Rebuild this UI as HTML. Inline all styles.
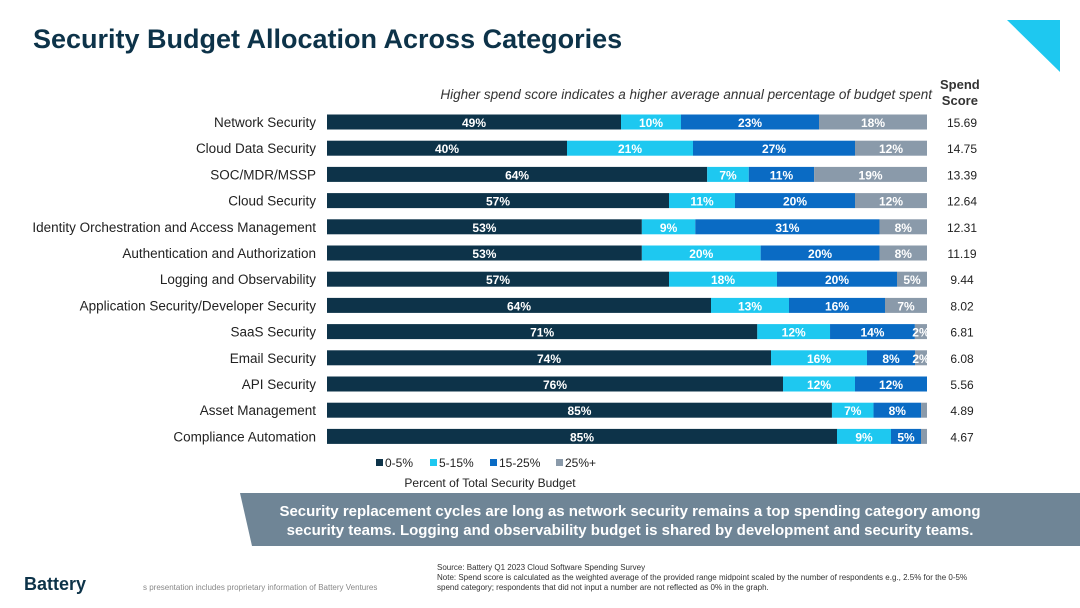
<!DOCTYPE html>
<html><head><meta charset="utf-8"><style>
body{margin:0;width:1080px;height:608px;background:#fff;font-family:"Liberation Sans",sans-serif;position:relative;overflow:hidden}
.t{position:absolute;white-space:nowrap}
</style></head><body>
<div class="t" style="left:33px;top:24px;font-size:27px;font-weight:bold;color:#0d3349">Security Budget Allocation Across Categories</div>
<svg class="t" style="left:0;top:0" width="1080" height="100"><polygon points="1007,20 1060,20 1060,72" fill="#1ec8f0"/></svg>
<div class="t" style="right:148px;top:87px;font-size:13.5px;font-style:italic;color:#333">Higher spend score indicates a higher average annual percentage of budget spent</div>
<div class="t" style="left:940px;top:77px;font-size:13px;font-weight:bold;color:#333;text-align:center;line-height:16px">Spend<br>Score</div>
<svg id="chart" style="position:absolute;left:0;top:0" width="1080" height="500"></svg>
<div class="t" style="left:0;top:0;width:1080px;height:560px;pointer-events:none">
<svg width="1080" height="560" style="position:absolute;left:0;top:0"><polygon points="240,493 1080,493 1080,546 252,546" fill="#6f8596"/></svg>
<div class="t" style="left:250px;top:502px;width:760px;text-align:center;color:#fff;font-weight:bold;font-size:15px;line-height:19px;white-space:normal">Security replacement cycles are long as network security remains a top spending category among security teams. Logging and observability budget is shared by development and security teams.</div>
</div>
<div class="t" style="left:437px;top:563px;font-size:8px;color:#333;line-height:10px">Source: Battery Q1 2023 Cloud Software Spending Survey<br>Note: Spend score is calculated as the weighted average of the provided range midpoint scaled by the number of respondents e.g., 2.5% for the 0-5%<br>spend category; respondents that did not input a number are not reflected as 0% in the graph.</div>
<div class="t" style="left:24px;top:574px;font-size:18px;font-weight:bold;color:#0d3349">Battery</div>
<div class="t" style="left:143px;top:583px;font-size:8px;color:#888">s presentation includes proprietary information of Battery Ventures</div>
<script>
const categories=["Network Security","Cloud Data Security","SOC/MDR/MSSP","Cloud Security","Identity Orchestration and Access Management","Authentication and Authorization","Logging and Observability","Application Security/Developer Security","SaaS Security","Email Security","API Security","Asset Management","Compliance Automation"];
const s0=[49,40,64,57,53,53,57,64,71,74,76,85,85];
const s1=[10,21,7,11,9,20,18,13,12,16,12,7,9];
const s2=[23,27,11,20,31,20,20,16,14,8,12,8,5];
const s3=[18,12,19,12,8,8,5,7,2,2,0,1,1];
const scores=["15.69","14.75","13.39","12.64","12.31","11.19","9.44","8.02","6.81","6.08","5.56","4.89","4.67"];
const seriesNames=["0-5%","5-15%","15-25%","25%+"];
const colors=["#0d3349","#1ec8f0","#0a6bc4","#8a9aaa"];
const svg=document.getElementById('chart');const NS="http://www.w3.org/2000/svg";
const x0=327,W=600,y0=122,step=26.2,bh=15;
function mk(t,a){const e=document.createElementNS(NS,t);for(const k in a)e.setAttribute(k,a[k]);svg.appendChild(e);return e;}
const series=[s0,s1,s2,s3];
categories.forEach((c,i)=>{
  const cy=y0+i*step;
  const tot=s0[i]+s1[i]+s2[i]+s3[i];
  const l=mk('text',{x:316,y:cy+5,'text-anchor':'end','font-size':13.5,fill:'#222'});l.textContent=c;
  
  
  let acc=0;
  series.forEach((s,j)=>{
    const v=s[i];if(!v)return;
    const x=x0+acc/tot*W,w=v/tot*W;acc+=v;
    const r=mk('rect',{x:x,y:cy-bh/2,width:w,height:bh,fill:colors[j]});
    
    
    if(v<2)return;
    const t=mk('text',{x:x+w/2,y:cy+5,'text-anchor':'middle','font-size':12,'font-weight':'bold',fill:'#fff'});t.textContent=v+'%';
    
    
  });
  const sc=mk('text',{x:962,y:cy+5,'text-anchor':'middle','font-size':12,fill:'#222'});sc.textContent=scores[i];
  
  
});
let lx=376;
seriesNames.forEach((n,j)=>{
  const r=mk('rect',{x:lx,y:459,width:7,height:7,fill:colors[j]});
  
  
  const t=mk('text',{x:lx+9,y:467,'font-size':12,fill:'#222'});t.textContent=n;
  
  
  lx+=[54,60,66,50][j];
});
const xt=mk('text',{x:490,y:487,'text-anchor':'middle','font-size':12,fill:'#222'});xt.textContent="Percent of Total Security Budget";


</script>
</body></html>
